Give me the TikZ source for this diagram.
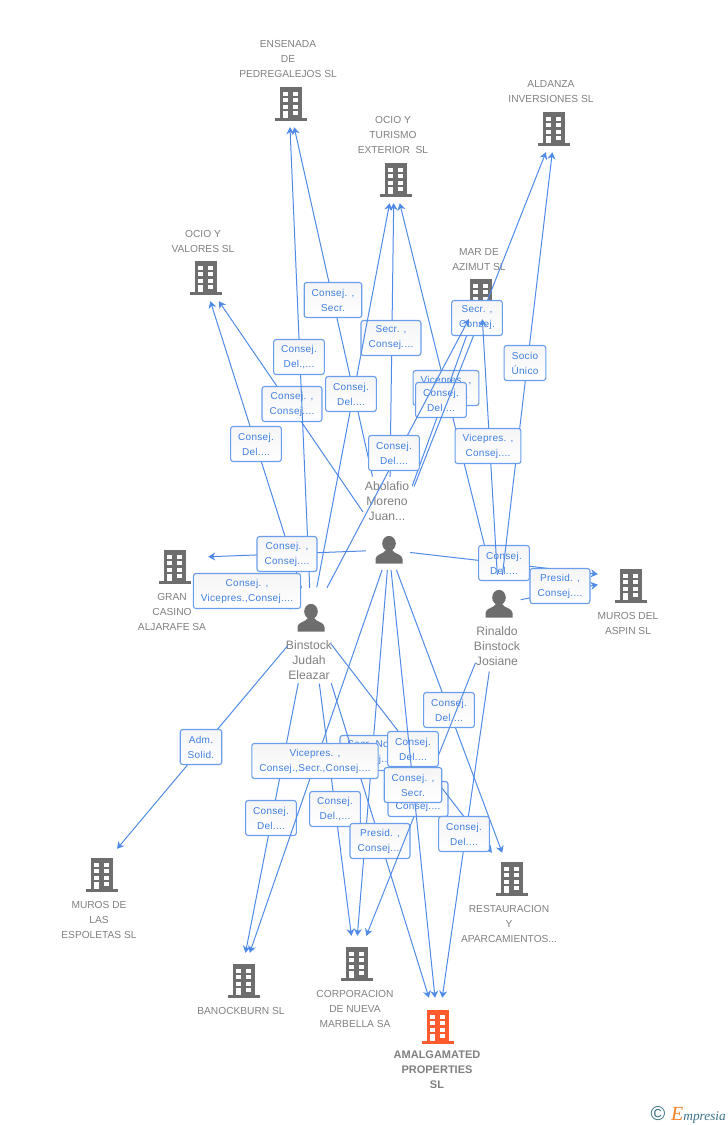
\documentclass[tikz,border=0pt]{standalone}
\usepackage{fontspec}
\setmainfont{Liberation Sans}
\newfontfamily\logofont{Liberation Serif}
\usetikzlibrary{arrows.meta}
\definecolor{linkblue}{HTML}{4F8AE6}
\definecolor{tagtext}{HTML}{3F7FE0}
\definecolor{tagedge}{HTML}{6A9DEB}
\definecolor{icongray}{HTML}{6E6E6E}
\definecolor{namegray}{HTML}{808080}
\definecolor{mainorange}{HTML}{FF5B2E}
\definecolor{logoteal}{HTML}{3A7188}
\definecolor{logoorange}{HTML}{F58220}
\tikzset{
	link/.style={linkblue, line width=1pt},
	arrowlink/.style={link, -{Stealth[length=7pt,width=8pt]}},
	tag/.style={draw=tagedge, line width=1.1pt, rounded corners=2.5pt, top color=black!4, bottom color=white, text=tagtext, align=center, font=\fontsize{10}{15}\selectfont\addfontfeatures{LetterSpace=3}, inner xsep=7.5pt, inner ysep=2pt, minimum height=35pt},
	company/.style={inner sep=0pt, minimum width=66pt, minimum height=#1},
	company/.default=46pt,
	person/.style={inner sep=0pt, minimum size=0pt},
	compname/.style={text=namegray, align=center, yshift=-1pt, font=\fontsize{10.2}{15}\selectfont},
	personname/.style={text=namegray, align=center, font=\fontsize{12.2}{15}\selectfont},
	mainname/.style={text=namegray, align=center, font=\fontsize{11}{15}\selectfont\bfseries},
	building/.pic={
		\fill[pic actions] (-11,-16.7) rectangle (11,14.3);
		\fill[pic actions] (-16,14.3) rectangle (16,16.7);
		\foreach \row in {-12.3,-6,0.7,7.3} {
			\fill[white] (-7.7,\row) rectangle ++(5,4);
			\fill[white] (2.3,\row) rectangle ++(5,4);
		}
		\fill[white] (-7.7,11) rectangle (-2.7,14.3);
	},
	silhouette/.pic={
		\fill[icongray] (0,-6.5) ellipse (6.8 and 7.6);
		\fill[icongray] (-13.5,13.5) -- (-13.5,9) .. controls (-13.5,4) and (-5,4) .. (-3,0) -- (3,0) .. controls (5,4) and (13.5,4) .. (13.5,9) -- (13.5,13.5) -- cycle;
	},
}
\begin{document}
\begin{tikzpicture}[x=1pt,y=-1pt]
	\path[use as bounding box] (0,0) rectangle (728,1125);
	% companies
	\node[company] (ensenada) at (289,104) {};
	\pic[icongray] at (291,104) {building};
	\node[compname] (ensenadaname) at (288,58) {ENSENADA\\DE\\PEDREGALEJOS SL};
	\node[company] (turismo) at (394,180) {};
	\pic[icongray] at (396,180) {building};
	\node[compname] (turismoname) at (393,134) {OCIO Y\\TURISMO\\EXTERIOR\ \ SL};
	\node[company] (aldanza) at (555,129) {};
	\pic[icongray] at (554,129) {building};
	\node[compname] (aldanzaname) at (551,91) {ALDANZA\\INVERSIONES SL};
	\node[company] (valores) at (203,278) {};
	\pic[icongray] at (206,278) {building};
	\node[compname] (valoresname) at (203,240) {OCIO Y\\VALORES SL};
	\node[company] (azimut) at (481,296) {};
	\pic[icongray] at (481,296) {building};
	\node[compname] (azimutname) at (479,259) {MAR DE\\AZIMUT SL};
	\node[company] (casino) at (175,558) {};
	\pic[icongray] at (175,567) {building};
	\node[compname] (casinoname) at (172,611) {GRAN\\CASINO\\ALJARAFE SA};
	\node[company] (aspin) at (631,578) {};
	\pic[icongray] at (631,586) {building};
	\node[compname] (aspinname) at (628,622) {MUROS DEL\\ASPIN SL};
	\node[company=52pt] (espoletas) at (95,875) {};
	\pic[icongray] at (102,875) {building};
	\node[compname] (espoletasname) at (99,919) {MUROS DE\\LAS\\ESPOLETAS SL};
	\node[company=52pt] (restauracion) at (512,879) {};
	\pic[icongray] at (512,879) {building};
	\node[compname] (restauracionname) at (509,923) {RESTAURACION\\Y\\APARCAMIENTOS...};
	\node[company=56pt] (banockburn) at (240,981) {};
	\pic[icongray] at (244,981) {building};
	\node[compname] (banockburnname) at (241,1010) {BANOCKBURN SL};
	\node[company=56pt] (corporacion) at (355,964) {};
	\pic[icongray] at (357,964) {building};
	\node[compname] (corporacionname) at (355,1008) {CORPORACION\\DE NUEVA\\MARBELLA SA};
	\node[company=58pt] (amalgamated) at (438,1027) {};
	\pic[mainorange] at (438,1027) {building};
	\node[mainname] (amalgamatedname) at (437,1070) {AMALGAMATED\\PROPERTIES\\SL};
	% persons
	\node[person] (abolafio) at (389,550) {};
	\pic at (389,550) {silhouette};
	\node[personname] (abolafioname) at (387,501) {Abolafio\\Moreno\\Juan...};
	\node[person] (binstock) at (311,618) {};
	\pic at (311,618) {silhouette};
	\node[personname] (binstockname) at (309,660) {Binstock\\Judah\\Eleazar};
	\node[person] (rinaldo) at (499,604) {};
	\pic at (499,604) {silhouette};
	\node[personname] (rinaldoname) at (497,646) {Rinaldo\\Binstock\\Josiane};
	% connectors with their tags, upper part
	\draw[arrowlink, shorten <=75pt] (abolafio) -- (ensenada);
	\node[tag] (tagA) at (333,300) {Consej. ,\\Secr.};
	\draw[arrowlink, shorten <=73pt] (abolafio) -- (turismo);
	\node[tag] (tagB) at (391,338) {Secr. ,\\Consej....};
	\draw[arrowlink, shorten <=46pt] (abolafio) -- (valores);
	\node[tag] (tagC) at (292,404) {Consej. ,\\Consej....};
	\draw[arrowlink, shorten <=30pt] (binstock) -- (ensenada);
	\node[tag] (tagD) at (299,357) {Consej.\\Del.,...};
	\draw[arrowlink, shorten <=31pt] (binstock) -- (turismo);
	\node[tag] (tagE) at (351,394) {Consej.\\Del....};
	\draw[arrowlink, shorten <=31pt] (binstock) -- (valores);
	\node[tag] (tagF) at (256,444) {Consej.\\Del....};
	\draw[arrowlink, shorten <=30pt] (rinaldo) -- (turismo);
	\node[tag] (tagG) at (446,388) {Vicepres. ,\\Consej....};
	\draw[arrowlink, shorten <=68pt] (abolafio) -- (azimut);
	\node[tag] (tagH) at (441,400) {Consej.\\Del....};
	\draw[arrowlink, shorten <=68pt] (abolafio) -- (aldanza);
	\node[tag] (tagI) at (477,318) {Secr. ,\\Consej.};
	\draw[arrowlink, shorten <=34pt] (binstock) -- (azimut);
	\node[tag] (tagJ) at (394,453) {Consej.\\Del....};
	% middle part
	\draw[arrowlink, shorten <=23pt] (abolafio) -- (casino);
	\node[tag] (tagK) at (287,554) {Consej. ,\\Consej....};
	\draw[arrowlink, shorten <=22pt, shorten >=12pt] (binstock) -- (casino);
	\node[tag] (tagL) at (247,591) {Consej. ,\\Vicepres.,Consej....};
	\draw[arrowlink, shorten <=21pt] (abolafio) -- (aspin);
	\node[tag] (tagM) at (504,563) {Consej.\\Del....};
	\draw[arrowlink, shorten <=29pt] (rinaldo) -- (aldanza);
	\node[tag] (tagN) at (525,363) {Socio\\Único};
	\draw[arrowlink, shorten <=29pt] (rinaldo) -- (azimut);
	\node[tag] (tagO) at (488,446) {Vicepres. ,\\Consej....};
	\draw[arrowlink, shorten <=22pt] (rinaldo) -- (aspin);
	\node[tag] (tagP) at (560,586) {Presid. ,\\Consej....};
	% lower part
	\draw[arrowlink, shorten <=36pt] (binstock) -- (espoletas);
	\node[tag] (tagQ) at (201,747) {Adm.\\Solid.};
	\draw[arrowlink, shorten <=20pt] (abolafio) -- (corporacion);
	\node[tag] (tagR) at (371,753) {Secr. No ,\\Consej....};
	\draw[arrowlink, shorten <=66pt] (binstock) -- (banockburn);
	\node[tag] (tagS) at (271,818) {Consej.\\Del....};
	\draw[arrowlink, shorten <=66pt] (binstock) -- (corporacion);
	\node[tag] (tagT) at (335,809) {Consej.\\Del.,...};
	\draw[arrowlink, shorten <=68pt] (binstock) -- (amalgamated);
	\node[tag] (tagU) at (380,841) {Presid. ,\\Consej....};
	\draw[arrowlink, shorten <=21pt] (abolafio) -- (banockburn);
	\node[tag] (tagV) at (315,761) {Vicepres. ,\\Consej.,Secr.,Consej....};
	\draw[arrowlink, shorten <=21pt] (abolafio) -- (restauracion);
	\node[tag] (tagW) at (449,710) {Consej.\\Del....};
	\draw[arrowlink, shorten <=63pt] (rinaldo) -- (corporacion);
	\node[tag] (tagX) at (418,799) {Consej. ,\\Consej....};
	\draw[arrowlink, shorten <=32pt] (binstock) -- (restauracion);
	\node[tag] (tagY) at (413,749) {Consej.\\Del....};
	\draw[arrowlink, shorten <=20pt] (abolafio) -- (amalgamated);
	\node[tag] (tagZ) at (413,785) {Consej. ,\\Secr.};
	\draw[arrowlink, shorten <=68pt] (rinaldo) -- (amalgamated);
	\node[tag] (tagAA) at (464,834) {Consej.\\Del....};
	% logo
	\node[text=logoteal, font=\fontsize{20}{20}\selectfont, inner sep=0pt] (logomark) at (658,1114) {©};
	\node[text=logoteal, font=\logofont\itshape\fontsize{13.3}{15}\selectfont, inner sep=0pt, anchor=east] (logotext) at (726,1115) {\textcolor{logoorange}{\fontsize{20}{15}\selectfont E}mpresia};
\end{tikzpicture}
\end{document}
